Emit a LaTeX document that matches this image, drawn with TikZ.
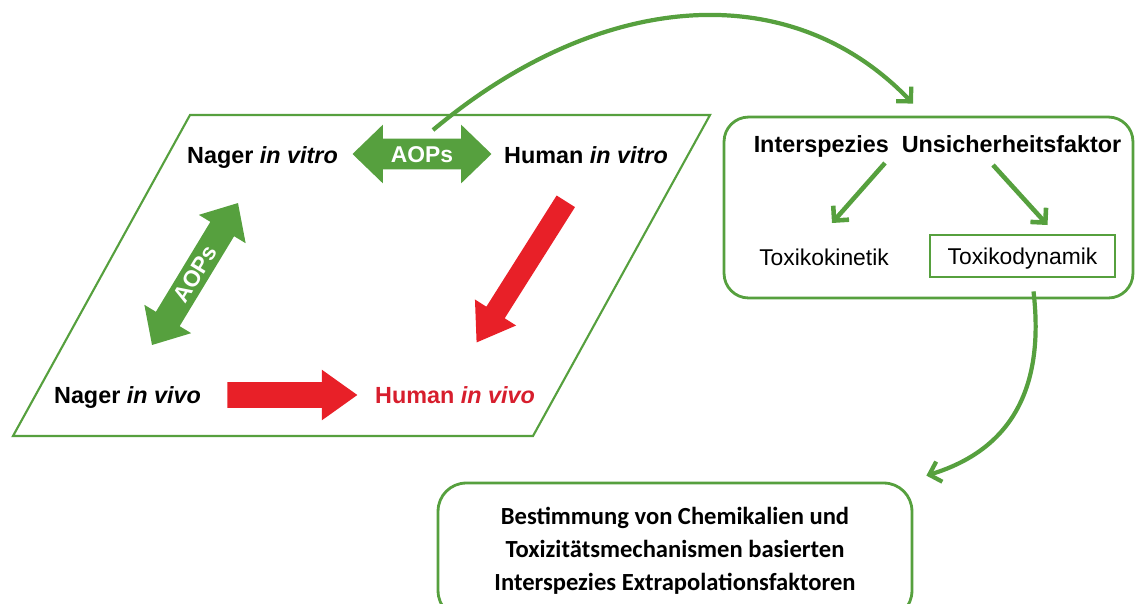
\documentclass[tikz,border=0pt]{standalone}
\usepackage{fontspec}
\setmainfont{Liberation Sans}
\newfontfamily\carlito{Carlito}
\usetikzlibrary{shapes.arrows,arrows.meta}

\begin{document}
\begin{tikzpicture}[x=0.02cm,y=-0.02cm,
	boldtext/.style={font=\bfseries\fontsize{13.3}{16}\selectfont,anchor=base},
	plaintext/.style={font=\fontsize{13}{16}\selectfont,anchor=base},
	aops/.style={double arrow,fill=aopgreen,text=white,font=\bfseries\fontsize{13}{16}\selectfont,text height=9.3pt,text depth=0pt,inner xsep=0pt,double arrow head extend=0.28cm},
	redarrow/.style={single arrow,fill=arrowred,inner xsep=0pt,inner ysep=0.25cm,single arrow head extend=0.25cm,anchor=tail},
	flow/.style={aopgreen,line width=2.4pt,-{Straight Barb[length=6pt,width=12pt]}},
	greenbox/.style={draw=aopgreen,line width=1.6pt,rounded corners=14pt}]
	\definecolor{aopgreen}{RGB}{86,160,62}
	\definecolor{arrowred}{RGB}{232,32,40}
	\definecolor{humanred}{RGB}{215,30,45}

	\useasboundingbox (0,0) rectangle (1136,603);

	\draw[aopgreen,line width=1.2pt] (190,115) -- (710,115) -- (533,436) -- (13,436) -- cycle;

	\node[boldtext] (nvitro) at (262.5,163) {Nager \textit{in vitro}};
	\node[boldtext] (hvitro) at (586,163) {Human \textit{in vitro}};
	\node[boldtext] (nvivo) at (127.5,403) {Nager \textit{in vivo}};
	\node[boldtext,text=humanred] (hvivo) at (455,403) {Human \textit{in vivo}};

	\node[aops,inner ysep=3.9pt,minimum height=2.78cm,double arrow tip angle=88] (aopsh) at (422,154) {AOPs};
	\node[aops,inner ysep=3.05pt,minimum height=3.32cm,double arrow tip angle=84,double arrow head extend=0.27cm,rotate=58.8] (aopsd) at (195,274) {AOPs};
	\node[redarrow,minimum height=2.6cm,single arrow tip angle=71] (redh) at (227,395) {};
	\node[redarrow,inner ysep=0.21cm,minimum height=3.34cm,single arrow tip angle=69,single arrow head extend=0.27cm,rotate=237.7] (redd) at (566,201) {};

	\node[greenbox,minimum width=8.18cm,minimum height=3.62cm] (ufbox) at (928.5,207.5) {};
	\node[boldtext] (faktor) at (937.5,152) {Interspezies~ Unsicherheitsfaktor};
	\node[plaintext] (kinetik) at (824,265) {Toxikokinetik};
	\node[draw=aopgreen,line width=1.6pt,font=\fontsize{13}{16}\selectfont,text depth=0pt,minimum width=3.7cm,minimum height=0.84cm] (dynamik) at (1022.5,256) {Toxikodynamik};

	\node[greenbox,rounded corners=16pt,minimum width=9.48cm,minimum height=2.72cm,align=center,font=\carlito\bfseries\fontsize{14}{18.8}\selectfont] (basis) at (675,551) {Bestimmung von Chemikalien und\\Toxizitätsmechanismen basierten\\Interspezies Extrapolationsfaktoren};

	\draw[flow] ([shift={(11,-24)}]aopsh.center) .. controls (600,-10) and (790,-25) .. ([shift={(-15.5,-12)}]ufbox.north);
	\draw[flow,line width=2.6pt] ([shift={(-52.5,11)}]faktor.base) -- ([shift={(8,-42)}]kinetik.base);
	\draw[flow,line width=2.6pt] ([shift={(55.5,13)}]faktor.base) -- ([shift={(25,-31)}]dynamik.center);
	\draw[flow] ([shift={(11,13)}]dynamik.south) .. controls (1045,390) and (1010,450) .. ([shift={(13,-6)}]basis.north east);
\end{tikzpicture}
\end{document}
